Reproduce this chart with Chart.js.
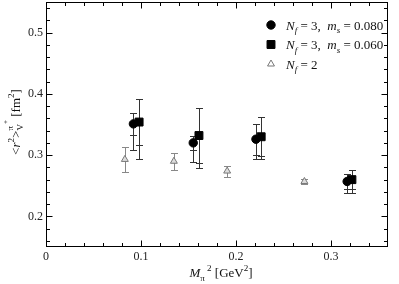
<!DOCTYPE html>
<html>
<head>
<meta charset="utf-8">
<script src="https://cdn.jsdelivr.net/npm/chart.js@4"></script>
<style>body{margin:0;background:#fff}</style>
</head>
<body>
<canvas id="chart" width="399" height="284"></canvas>
<script>
// DATA
// Nf=3, ms=0.080 (circles)
const mpi2_080 = [0.092, 0.155, 0.221, 0.317];
const r2_080 = [0.351, 0.320, 0.326, 0.257];
const stat_080 = [0.018, 0.011, 0.025, 0.012];
const low_080 = [0.308, 0.289, 0.294, 0.238];
// Nf=3, ms=0.060 (squares)
const mpi2_060 = [0.098, 0.161, 0.2265, 0.322];
const r2_060 = [0.354, 0.332, 0.330, 0.260];
const stat_060 = [0.037, 0.045, 0.032, 0.016];
const low_060 = [0.294, 0.279, 0.293, 0.238];
// Nf=2 (triangles)
const mpi2_nf2 = [0.083, 0.1346, 0.1907, 0.272];
const r2_nf2 = [0.293, 0.290, 0.274, 0.257];
const err_nf2 = [0.021, 0.014, 0.009, 0.004];

const xTicks = [0, 0.1, 0.2, 0.3];
const yTicks = [0.2, 0.3, 0.4, 0.5];

const FONT = '"Liberation Serif", "DejaVu Serif", serif';

function toPoints(xs, ys, stat, low) {
	return xs.map((x, i) => ({
		x: x, y: ys[i],
		hi: ys[i] + stat[i],
		lo: ys[i] - stat[i],
		bot: low ? low[i] : ys[i] - stat[i]
	}));
}

// draw text with sub/superscripts
function rich(ctx, segs, x, y, base, draw) {
	let cx = x, prevStart = x, prevEnd = x;
	segs.forEach(s => {
		ctx.font = (s.it ? 'italic ' : '') + (base * (s.sz || 1)) + 'px ' + FONT;
		const w = ctx.measureText(s.t).width;
		const start = s.stack ? prevStart : cx;
		if (draw) ctx.fillText(s.t, start, y + (s.dy || 0) * base);
		const end = start + w;
		cx = s.stack ? Math.max(prevEnd, end) : end;
		prevStart = start;
		prevEnd = cx;
	});
	return cx - x;
}

function richCentered(ctx, segs, x, y, base) {
	const w = rich(ctx, segs, 0, 0, base, false);
	rich(ctx, segs, x - w / 2, y, base, true);
}

const xTitle = [
	{t: 'M', it: true},
	{t: 'π', sz: 0.7, dy: 0.3},
	{t: ' 2', sz: 0.7, dy: -0.45},
	{t: ' [GeV'},
	{t: '2', sz: 0.7, dy: -0.45},
	{t: ']'}
];
const yTitle = [
	{t: '<'},
	{t: 'r', it: true},
	{t: '2', sz: 0.7, dy: -0.45},
	{t: '>'},
	{t: 'V', sz: 0.7, dy: 0.3},
	{t: 'π', sz: 0.7, dy: -0.5, stack: true},
	{t: '+', sz: 0.55, dy: -0.85},
	{t: ' [fm'},
	{t: '2', sz: 0.7, dy: -0.45},
	{t: ']'}
];
const legendRows = [
	{style: 'circle', color: '#000', fill: '#000', segs: [
		{t: 'N', it: true}, {t: 'f', it: true, sz: 0.7, dy: 0.3}, {t: ' = 3,  '},
		{t: 'm', it: true}, {t: 's', it: true, sz: 0.7, dy: 0.3}, {t: ' = 0.080'}]},
	{style: 'rect', color: '#000', fill: '#000', segs: [
		{t: 'N', it: true}, {t: 'f', it: true, sz: 0.7, dy: 0.3}, {t: ' = 3,  '},
		{t: 'm', it: true}, {t: 's', it: true, sz: 0.7, dy: 0.3}, {t: ' = 0.060'}]},
	{style: 'triangle', color: '#777', fill: '#fff', segs: [
		{t: 'N', it: true}, {t: 'f', it: true, sz: 0.7, dy: 0.3}, {t: ' = 2'}]}
];
const legendRadius = {circle: 4.2, rect: 5.6, triangle: 4};

// ERROR BARS
const errorBars = {
	id: 'errorBars',
	beforeDatasetsDraw(chart) {
		const ctx = chart.ctx, xs = chart.scales.x, ys = chart.scales.y;
		ctx.save();
		ctx.lineWidth = 1;
		chart.data.datasets.forEach(ds => {
			ctx.strokeStyle = ds.errColor;
			ds.data.forEach(p => {
				const px = Math.round(xs.getPixelForValue(p.x)) + 0.5;
				const caps = [p.hi, p.lo, p.bot].map(v => Math.round(ys.getPixelForValue(v)) + 0.5);
				ctx.beginPath();
				ctx.moveTo(px, caps[0]);
				ctx.lineTo(px, caps[2]);
				caps.forEach(c => {
					ctx.moveTo(px - 3.5, c);
					ctx.lineTo(px + 3.5, c);
				});
				ctx.stroke();
			});
		});
		ctx.restore();
	}
};

// FRAME, TICKS, TITLES, LEGEND
const decor = {
	id: 'decor',
	afterDraw(chart) {
		const ctx = chart.ctx, a = chart.chartArea, xs = chart.scales.x, ys = chart.scales.y;
		ctx.save();
		ctx.strokeStyle = '#000';
		ctx.lineWidth = 1;
		const L = Math.round(a.left) + 0.5, R = Math.round(a.right) - 0.5, T = Math.round(a.top) + 0.5, B = Math.round(a.bottom) - 0.5;
		ctx.strokeRect(L, T, R - L, B - T);
		ctx.beginPath();
		for (let i = 0; i <= 18; i++) {
			const v = i * 0.02;
			const len = i % 5 === 0 ? 6 : 3.5;
			const px = Math.round(xs.getPixelForValue(v)) + 0.5;
			if (px > R) continue;
			ctx.moveTo(px, B); ctx.lineTo(px, B - len);
			ctx.moveTo(px, T); ctx.lineTo(px, T + len);
		}
		for (let i = 8; i <= 27; i++) {
			const v = i * 0.02;
			const len = i % 5 === 0 ? 6 : 3.5;
			const py = Math.round(ys.getPixelForValue(v)) + 0.5;
			ctx.moveTo(L, py); ctx.lineTo(L + len, py);
			ctx.moveTo(R, py); ctx.lineTo(R - len, py);
		}
		ctx.stroke();

		ctx.fillStyle = '#111';
		ctx.textBaseline = 'alphabetic';
		ctx.textAlign = 'left';
		richCentered(ctx, xTitle, (a.left + a.right) / 2 + 4, 277, 13);

		ctx.save();
		ctx.translate(19.5, 122);
		ctx.rotate(-Math.PI / 2);
		richCentered(ctx, yTitle, 0, 0, 13);
		ctx.restore();

		legendRows.forEach((row, i) => {
			const cy = 25 + i * 19.5;
			ctx.fillStyle = row.fill;
			ctx.strokeStyle = row.color;
			Chart.helpers.drawPoint(ctx, {
				pointStyle: row.style, radius: legendRadius[row.style], rotation: 0, borderWidth: 1
			}, 271, cy);
			ctx.fillStyle = '#111';
			rich(ctx, row.segs, 286, cy + 4.5, 13, true);
		});
		ctx.restore();
	}
};

function noPad(s) {
	s.paddingTop = 0;
	s.paddingBottom = 0;
	s.paddingLeft = 0;
	s.paddingRight = 0;
}

const ctx = document.getElementById('chart').getContext('2d');

new Chart(ctx, {
	type: 'scatter',
	data: {
		datasets: [{
			label: 'Nf=2',
			data: toPoints(mpi2_nf2, r2_nf2, err_nf2),
			pointStyle: 'triangle',
			pointRadius: 4,
			borderColor: '#777',
			backgroundColor: '#ddd',
			borderWidth: 1,
			errColor: '#888'
		}, {
			label: 'Nf=3, ms=0.080',
			data: toPoints(mpi2_080, r2_080, stat_080, low_080),
			pointStyle: 'circle',
			pointRadius: 4.2,
			borderColor: '#000',
			backgroundColor: '#000',
			borderWidth: 1,
			errColor: '#333'
		}, {
			label: 'Nf=3, ms=0.060',
			data: toPoints(mpi2_060, r2_060, stat_060, low_060),
			pointStyle: 'rect',
			pointRadius: 5.6,
			borderColor: '#000',
			backgroundColor: '#000',
			borderWidth: 1,
			errColor: '#333'
		}]
	},
	options: {
		responsive: false,
		animation: false,
		layout: {autoPadding: false, padding: {left: 0, right: 11, top: 2, bottom: 0}},
		plugins: {legend: {display: false}, tooltip: {enabled: false}},
		scales: {
			x: {
				type: 'linear', min: 0, max: 0.36,
				grid: {display: false, drawTicks: false},
				border: {display: false},
				afterBuildTicks: s => { s.ticks = xTicks.map(v => ({value: v})); },
				afterFit: s => { s.height = 37; noPad(s); },
				ticks: {
					padding: 3, color: '#222', maxRotation: 0,
					font: {family: FONT, size: 12},
					callback: v => v === 0 ? '0' : v.toFixed(1)
				}
			},
			y: {
				type: 'linear', min: 0.15, max: 0.55,
				grid: {display: false, drawTicks: false},
				border: {display: false},
				afterBuildTicks: s => { s.ticks = yTicks.map(v => ({value: v})); },
				afterFit: s => { s.width = 46; noPad(s); },
				ticks: {
					padding: 3, color: '#222',
					font: {family: FONT, size: 12},
					callback: v => v.toFixed(1)
				}
			}
		}
	},
	plugins: [errorBars, decor]
});
</script>
</body>
</html>
